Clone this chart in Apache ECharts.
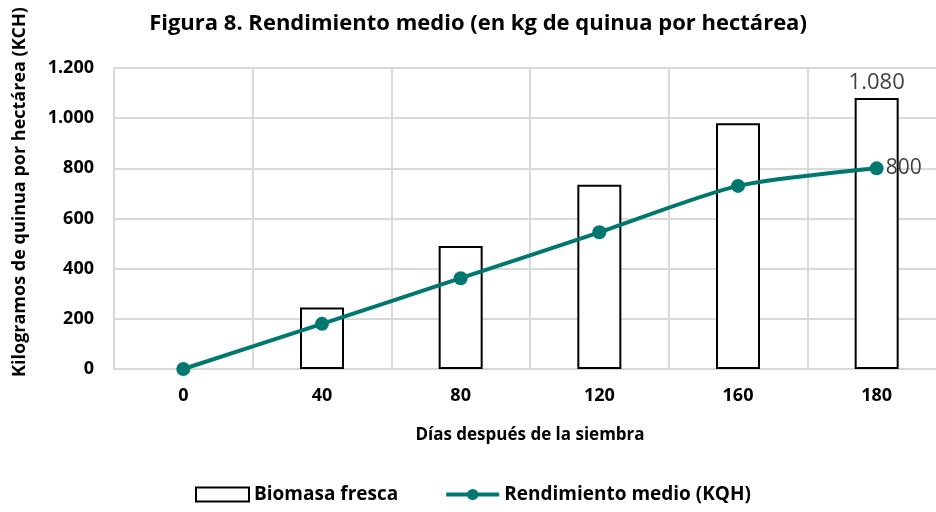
<!DOCTYPE html>
<html>
<head>
<meta charset="utf-8">
<script src="https://cdn.jsdelivr.net/npm/echarts@6/dist/echarts.min.js"></script>
<style>
  html, body { margin: 0; padding: 0; background: #fff; }
  #chart { width: 936px; height: 512px; }
</style>
</head>
<body>
<div id="chart"></div>
<script>
var dias = ['0', '40', '80', '120', '160', '180'];
var biomasa = [0, 245, 490, 735, 980, 1080];
var rendimiento = [0, 180, 362, 545, 730, 800];
var yTicks = [0, 200, 400, 600, 800, 1000, 1200];

var fontFam = '"Open Sans", "Liberation Sans", sans-serif';
var verde = '#00786F';

// miles con punto, como en el original
function miles(v) {
    return String(v).replace(/\B(?=(\d{3})+(?!\d))/g, '.');
}

var chart = echarts.init(document.getElementById('chart'));

var option = {
    animation: false,
    title: {
        text: 'Figura 8. Rendimiento medio (en kg de quinua por hectárea)',
        left: 473,
        textAlign: 'center',
        top: 8,
        textStyle: { fontFamily: fontFam, fontSize: 22, fontWeight: 'bold', color: '#000' }
    },
    // el área del gráfico se sale un poco por la derecha, como en el original
    grid: { left: 114, width: 832, top: 68, bottom: 143, containLabel: false, outerBoundsMode: 'none' },
    legend: {
        bottom: 3,
        left: 190,
        itemWidth: 53,
        itemHeight: 14,
        itemGap: 46,
        textStyle: { fontFamily: fontFam, fontSize: 19, fontWeight: 'bold', color: '#000' },
        data: [
            { name: 'Biomasa fresca', icon: 'rect' },
            { name: 'Rendimiento medio (KQH)', lineStyle: { width: 4 } }
        ]
    },
    xAxis: {
        type: 'category',
        data: dias,
        name: 'Días después de la siembra',
        nameLocation: 'middle',
        nameGap: 58,
        nameTextStyle: { fontFamily: fontFam, fontSize: 17, fontWeight: 'bold', color: '#000' },
        axisLine: { lineStyle: { color: '#d9d9d9', width: 2 } },
        axisTick: { show: false },
        axisLabel: { margin: 18, fontFamily: fontFam, fontSize: 18, fontWeight: 'bold', color: '#000' },
        splitLine: { show: true, lineStyle: { color: '#d9d9d9', width: 2 } }
    },
    yAxis: {
        type: 'value',
        min: 0,
        max: 1200,
        interval: 200,
        axisLine: { show: false },
        axisTick: { show: false },
        axisLabel: {
            margin: 20,
            fontFamily: fontFam, fontSize: 18, fontWeight: 'bold', color: '#000',
            formatter: function (v) { return yTicks.indexOf(v) >= 0 ? miles(v) : ''; }
        },
        splitLine: { lineStyle: { color: '#d9d9d9', width: 2 } }
    },
    graphic: [{
        type: 'text',
        x: 20,
        y: 192,
        rotation: Math.PI / 2,
        style: {
            text: 'Kilogramos de quinua por hectárea (KCH)',
            fontFamily: fontFam, fontSize: 18, fontWeight: 'bold', fill: '#000',
            textAlign: 'center', textVerticalAlign: 'middle'
        }
    }],
    series: [
        {
            name: 'Biomasa fresca',
            type: 'bar',
            // una barra de valor 0 no se ve en el original
            data: biomasa.map(function (v) { return v === 0 ? '-' : v; }),
            barWidth: 44,
            itemStyle: { color: '#fff', borderColor: '#000', borderWidth: 2 },
            label: {
                show: true,
                position: 'top',
                distance: 4,
                fontFamily: fontFam, fontSize: 22, color: '#404040',
                formatter: function (p) { return p.dataIndex === biomasa.length - 1 ? miles(p.value) : ''; }
            },
            z: 2
        },
        {
            name: 'Rendimiento medio (KQH)',
            type: 'line',
            data: rendimiento,
            smooth: 0.25,
            symbol: 'circle',
            symbolSize: 14,
            lineStyle: { color: verde, width: 4 },
            itemStyle: { color: verde },
            label: {
                show: true,
                position: 'right',
                distance: 2,
                fontFamily: fontFam, fontSize: 21, color: '#404040',
                formatter: function (p) { return p.dataIndex === rendimiento.length - 1 ? miles(p.value) : ''; }
            },
            z: 3
        }
    ]
};

chart.setOption(option);
</script>
</body>
</html>
